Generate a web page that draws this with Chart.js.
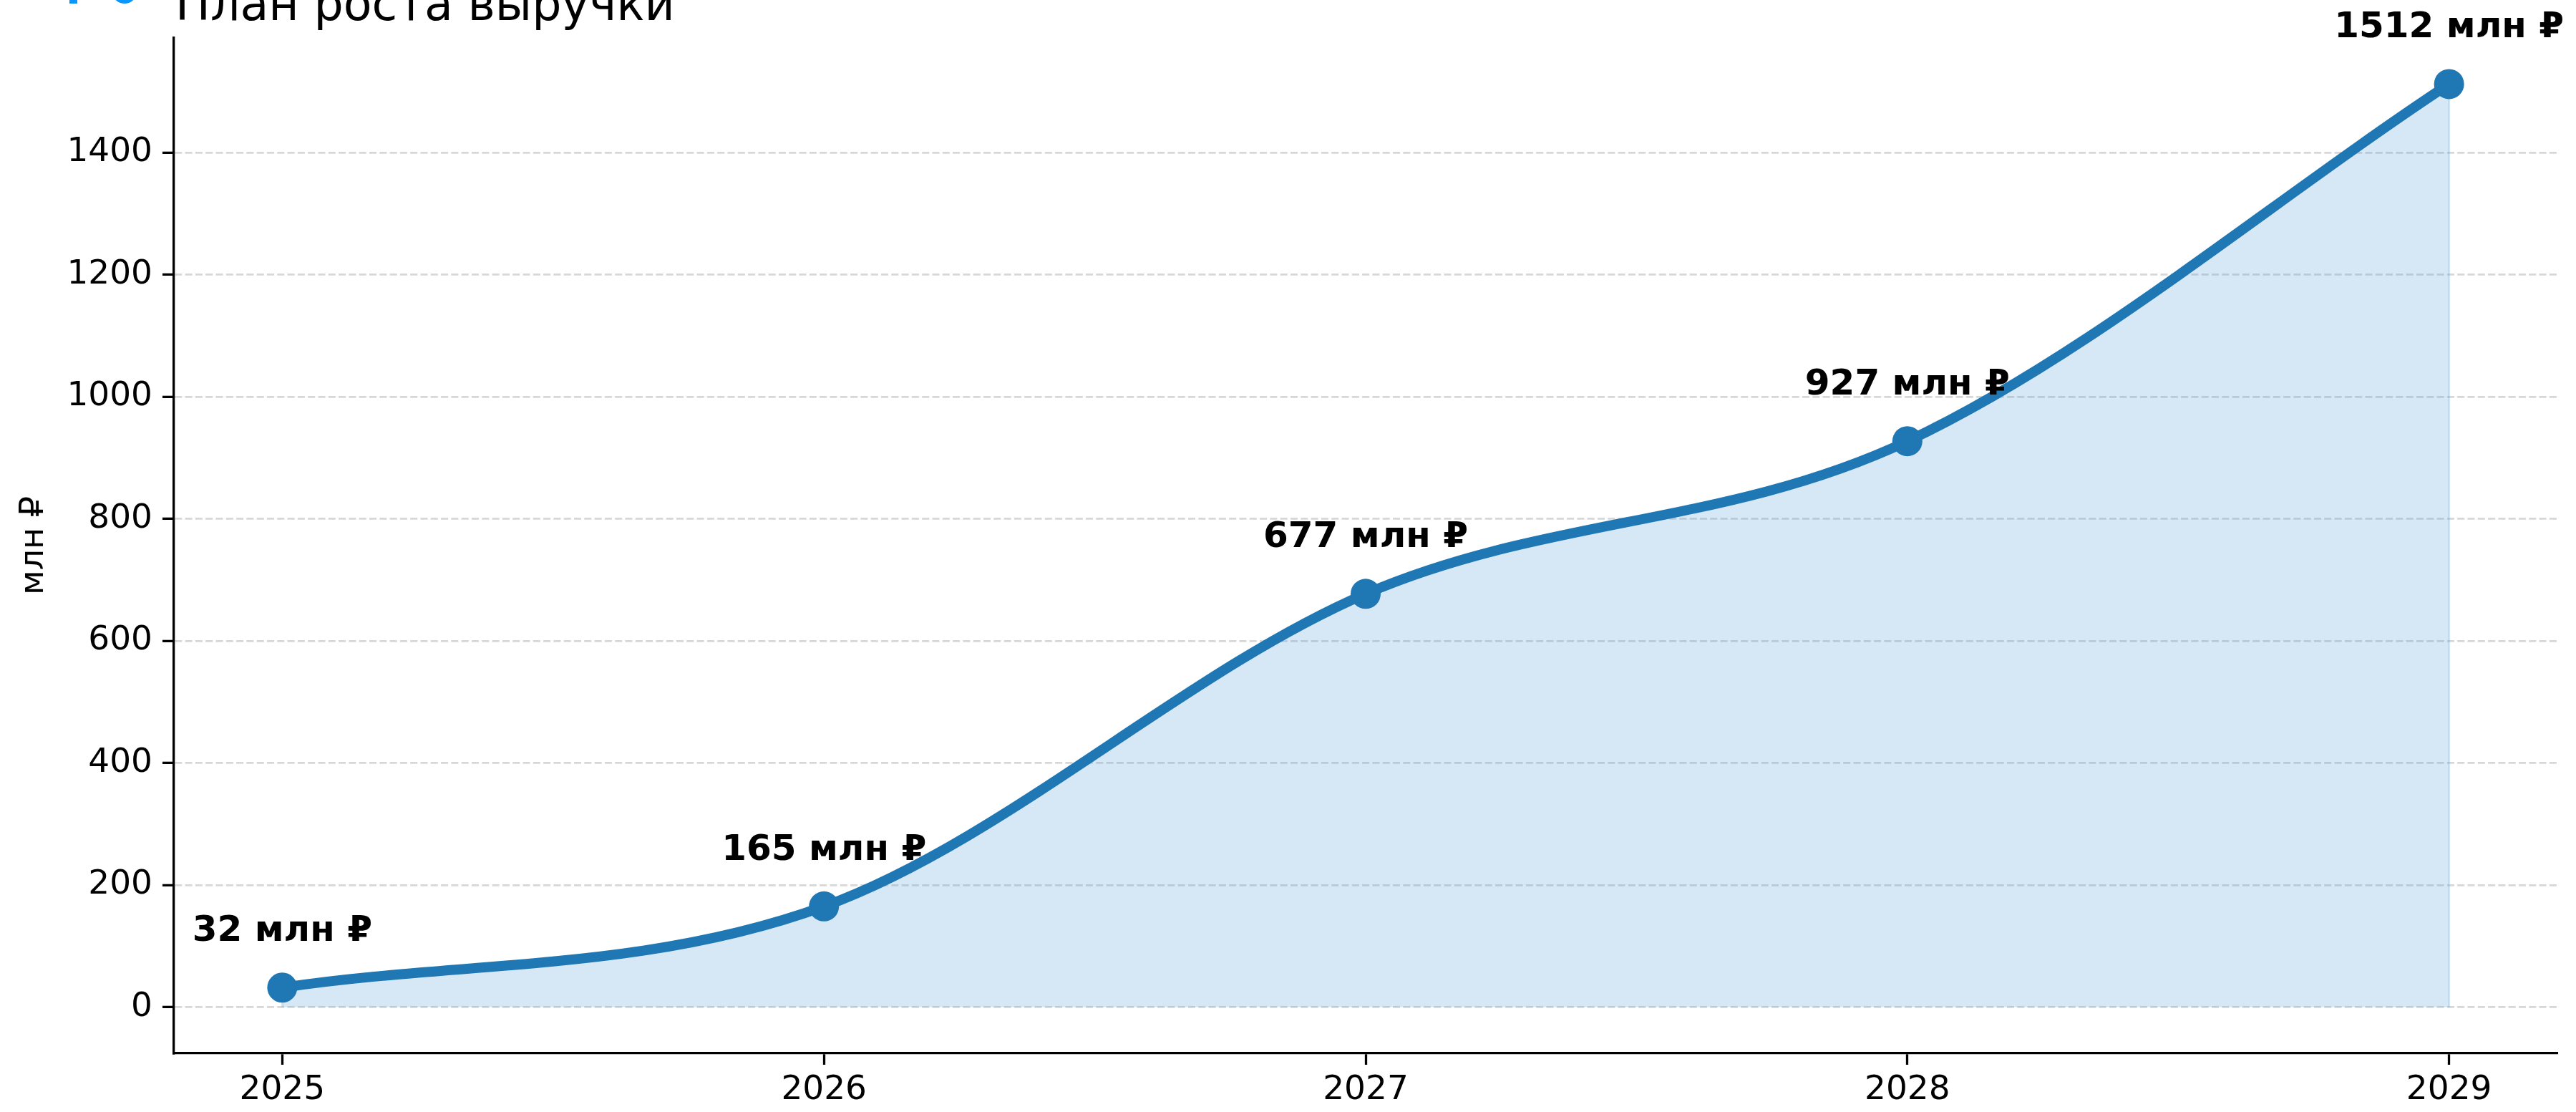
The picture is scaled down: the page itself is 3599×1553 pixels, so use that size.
<!DOCTYPE html>
<html lang="ru">
<head>
<meta charset="utf-8">
<title>План роста выручки</title>
<script src="https://cdn.jsdelivr.net/npm/chart.js@4.4.1/dist/chart.umd.min.js"></script>
<style>
  html, body { margin: 0; padding: 0; background: #fff; }
  canvas { display: block; }
</style>
</head>
<body>
<canvas id="revenueChart" width="3599" height="1553"></canvas>
<script>
// данные плана
const years = [2025, 2026, 2027, 2028, 2029];
const revenue = [32, 165, 677, 927, 1512];
const yTicks = [0, 200, 400, 600, 800, 1000, 1200, 1400];
const chartTitle = 'План роста выручки';
const yAxisTitle = 'млн ₽';
const valueSuffix = ' млн ₽';

const FONT = '"DejaVu Sans", "Liberation Sans", sans-serif';
const LINE_COLOR = '#1f77b4';
const FILL_COLOR = 'rgba(91, 163, 215, 0.25)';

// заголовок и значок слева от него
const headerPlugin = {
    id: 'header',
    afterDraw(chart) {
        let ctx = chart.ctx;
        ctx.save();
        ctx.fillStyle = '#0a96ff';
        ctx.fillRect(97, 0, 11, 5);
        ctx.beginPath();
        ctx.ellipse(174, -9, 16, 14, 0, 0, Math.PI);
        ctx.fill();
        ctx.fillStyle = '#000';
        ctx.font = '65px ' + FONT;
        ctx.textAlign = 'left';
        ctx.textBaseline = 'alphabetic';
        ctx.fillText(chartTitle, 245, 28);
        ctx.restore();
    }
};

// края заливки и подписи значений над точками
const valueLabels = {
    id: 'valueLabels',
    beforeDatasetsDraw(chart) {
        let ctx = chart.ctx;
        let meta = chart.getDatasetMeta(0);
        let zeroY = chart.scales.y.getPixelForValue(0);
        ctx.save();
        ctx.strokeStyle = FILL_COLOR;
        ctx.lineWidth = 3;
        [0, meta.data.length - 1].forEach(i => {
            let pt = meta.data[i];
            ctx.beginPath();
            ctx.moveTo(pt.x, zeroY);
            ctx.lineTo(pt.x, pt.y);
            ctx.stroke();
        });
        ctx.restore();
    },
    afterDatasetsDraw(chart) {
        let ctx = chart.ctx;
        let meta = chart.getDatasetMeta(0);
        ctx.save();
        ctx.font = 'bold 50px ' + FONT;
        ctx.fillStyle = '#000';
        ctx.textAlign = 'center';
        ctx.textBaseline = 'alphabetic';
        meta.data.forEach((pt, i) => {
            ctx.fillText(revenue[i] + valueSuffix, pt.x, pt.y - 65);
        });
        ctx.restore();
    }
};

let ctx = document.getElementById('revenueChart').getContext('2d');
let revenueChart = new Chart(ctx, {
    type: 'line',
    data: {
        datasets: [{
            data: years.map((y, i) => ({ x: y, y: revenue[i] })),
            borderColor: LINE_COLOR,
            borderWidth: 14,
            backgroundColor: FILL_COLOR,
            fill: 'origin',
            cubicInterpolationMode: 'monotone',
            pointRadius: 21,
            pointBackgroundColor: LINE_COLOR,
            pointBorderWidth: 0
        }]
    },
    options: {
        responsive: false,
        devicePixelRatio: 1,
        animation: false,
        layout: { padding: { top: 53, right: 26, left: 0, bottom: 0 } },
        plugins: {
            legend: { display: false },
            tooltip: { enabled: false }
        },
        scales: {
            x: {
                type: 'linear',
                min: 2024.8,
                max: 2029.2,
                afterBuildTicks: axis => { axis.ticks = years.map(v => ({ value: v })); },
                afterFit: axis => { axis.height = 82; },
                grid: {
                    drawOnChartArea: false,
                    tickLength: 16,
                    tickWidth: 3.3,
                    tickColor: '#000'
                },
                border: { color: '#000', width: 3.3 },
                ticks: {
                    color: '#000',
                    font: { family: FONT, size: 47 },
                    padding: 8,
                    maxRotation: 0,
                    autoSkip: false,
                    callback: v => String(v)
                }
            },
            y: {
                min: -75.6,
                max: 1587.6,
                afterBuildTicks: axis => { axis.ticks = yTicks.map(v => ({ value: v })); },
                afterFit: axis => { axis.width = 243; },
                grid: {
                    color: 'rgba(176, 176, 176, 0.5)',
                    lineWidth: 2.7,
                    tickLength: 16,
                    tickWidth: 3.3,
                    tickColor: '#000'
                },
                border: { color: '#000', width: 3.3, dash: [10, 4.3] },
                ticks: {
                    color: '#000',
                    font: { family: FONT, size: 47 },
                    padding: 14,
                    callback: v => String(v)
                },
                title: {
                    display: true,
                    text: yAxisTitle,
                    color: '#000',
                    font: { family: FONT, size: 46 },
                    padding: { top: 20, bottom: 0 }
                }
            }
        }
    },
    plugins: [valueLabels, headerPlugin]
});
</script>
</body>
</html>
